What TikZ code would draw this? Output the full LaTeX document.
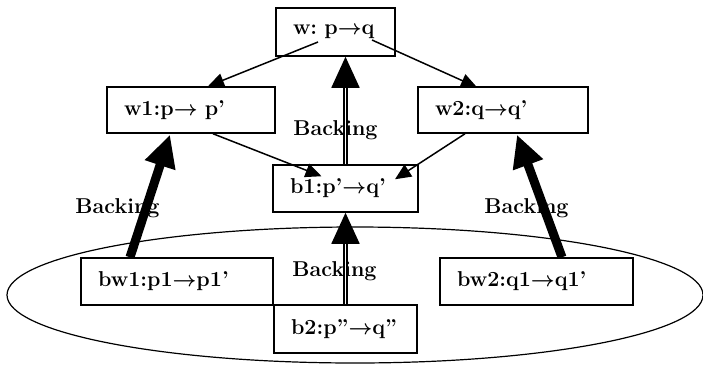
\documentclass[tikz,border=0pt]{standalone}
\usetikzlibrary{arrows.meta,calc}
\begin{document}
\begin{tikzpicture}[x=1pt,y=-1pt,
  every node/.style={font=\fontsize{21.5}{26}\selectfont\bfseries\boldmath},
  bx/.style={draw, line width=1.5pt, fill=white, inner xsep=17pt, inner ysep=0pt, align=left},
  thin/.style={line width=1.5pt, -{Triangle[length=16pt,width=14pt]}},
  thick/.style={line width=9pt, -{Triangle[length=32pt,width=30pt]}},
  dbl/.style={double, line width=1.7pt, double distance=1.8pt, -{Triangle[length=31pt,width=28pt]}},
  lbl/.style={anchor=base, inner sep=0pt}]
\useasboundingbox (0,0) rectangle (703,367);
% ellipse
\draw[line width=1.2pt] (355,295) ellipse [x radius=348, y radius=68];
% boxes
\node[bx, minimum width=119pt, minimum height=48pt, text width=85pt] (w) at (335.5,32) {w:~p$\rightarrow$q};
\node[bx, minimum width=168pt, minimum height=46pt, text width=134pt] (w1) at (191,110) {w1:p$\rightarrow$~p'};
\node[bx, minimum width=170pt, minimum height=46pt, text width=136pt] (w2) at (503,110) {w2:q$\rightarrow$q'};
\node[bx, minimum width=145pt, minimum height=47pt, text width=111pt] (b1) at (345.5,188.5) {b1:p'$\rightarrow$q'};
\node[bx, minimum width=143pt, minimum height=48pt, text width=109pt] (b2) at (345.5,329) {b2:p''$\rightarrow$q''};
\node[bx, minimum width=192pt, minimum height=47pt, text width=158pt] (bw1) at (177,281.5) {bw1:p1$\rightarrow$p1'};
\node[bx, minimum width=193pt, minimum height=47pt, text width=159pt] (bw2) at (536.5,281.5) {bw2:q1$\rightarrow$q1'};
% labels
\node[lbl] (l1) at (335.5,135) {Backing};
\node[lbl] (l2) at (117.5,213) {Backing};
\node[lbl] (l3) at (526.5,213) {Backing};
\node[lbl] (l4) at (334.5,276) {Backing};
% thin arrows
\draw[thin] ($(w.center)+(-17.5,10)$) -- ($(w1.north)+(17,0)$);
\draw[thin] ($(w.center)+(36.5,8)$) -- ($(w2.north)+(-26,1)$);
\draw[thin] ($(w1.south)+(22,0)$) -- ($(b1.north)+(-24,12)$);
\draw[thin] ($(w2.south)+(-38,0)$) -- ($(b1.north)+(49.5,15)$);
% thick arrows
\draw[thick] ($(bw1.north)+(-47,0)$) -- ($(w1.south)+(-21,1)$);
\draw[thick] ($(bw2.north)+(25.5,0)$) -- ($(w2.south)+(14,1)$);
% double arrows
\draw[dbl] (b1.north) -- (b1.north |- w.south);
\draw[dbl] (b2.north) -- (b1.south);
\end{tikzpicture}
\end{document}
